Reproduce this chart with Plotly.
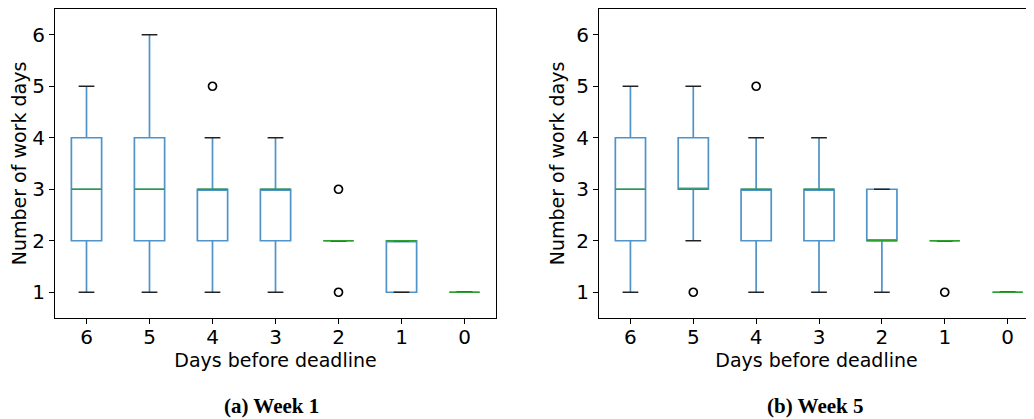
import plotly.graph_objects as go

days = ["6", "5", "4", "3", "2", "1", "0"]

# Week 1 box statistics
w1_q1 = [2, 2, 2, 2, 2, 1, 1]
w1_median = [3, 3, 3, 3, 2, 2, 1]
w1_q3 = [4, 4, 3, 3, 2, 2, 1]
w1_low = [1, 1, 1, 1, 2, 1, 1]
w1_high = [5, 6, 4, 4, 2, 2, 1]
w1_out_day = ["4", "2", "2"]
w1_out_val = [5, 3, 1]

# Week 5 box statistics
w5_q1 = [2, 3, 2, 2, 2, 2, 1]
w5_median = [3, 3, 3, 3, 2, 2, 1]
w5_q3 = [4, 4, 3, 3, 3, 2, 1]
w5_low = [1, 2, 1, 1, 1, 2, 1]
w5_high = [5, 5, 4, 4, 3, 2, 1]
w5_out_day = ["5", "4", "1"]
w5_out_val = [1, 5, 1]

BOX_W = 0.48
CAP_W = 0.25
BLUE = "#4f93c9"
GREEN = "#2ca02c"
FONT = "DejaVu Sans"

# page body has an 8px margin; the figure is sized and placed accordingly
OFF = 8
W, H = 1034 - OFF, 419 - OFF


def px(x):
    return (x - OFF) / W


def py(y):
    return (H - (y - OFF)) / H


fig = go.Figure()


def seg_xy(pos, vals, half):
    xs, ys = [], []
    for p, v in zip(pos, vals):
        xs += [p - half, p + half, None]
        ys += [v, v, None]
    return xs, ys


def add_panel(q1, med, q3, low, high, out_day, out_val, xa, ya):
    pos = list(range(len(days)))
    fig.add_trace(go.Box(
        x=pos, q1=q1, median=med, q3=q3, lowerfence=low, upperfence=high,
        width=BOX_W, whiskerwidth=0.0, line=dict(color=BLUE, width=1.7),
        fillcolor="rgba(0,0,0,0)", boxpoints=False, showlegend=False,
        xaxis=xa, yaxis=ya, hoverinfo="skip"))
    cx, cy = seg_xy(pos + pos, low + high, CAP_W / 2)
    fig.add_trace(go.Scatter(x=cx, y=cy, mode="lines",
                             line=dict(color="#222222", width=1.5),
                             showlegend=False, xaxis=xa, yaxis=ya, hoverinfo="skip"))
    mx, my = seg_xy(pos, med, BOX_W / 2)
    fig.add_trace(go.Scatter(x=mx, y=my, mode="lines",
                             line=dict(color=GREEN, width=1.5),
                             showlegend=False, xaxis=xa, yaxis=ya, hoverinfo="skip"))
    ox = [days.index(d) for d in out_day]
    fig.add_trace(go.Scatter(x=ox, y=out_val, mode="markers",
                             marker=dict(symbol="circle-open", size=8,
                                         color="black", line=dict(width=1.7)),
                             showlegend=False, xaxis=xa, yaxis=ya, hoverinfo="skip"))


add_panel(w1_q1, w1_median, w1_q3, w1_low, w1_high, w1_out_day, w1_out_val, "x", "y")
add_panel(w5_q1, w5_median, w5_q3, w5_low, w5_high, w5_out_day, w5_out_val, "x2", "y2")

xcommon = dict(tickmode="array", tickvals=list(range(len(days))), ticktext=days,
               ticks="outside", ticklen=5, tickcolor="black", showgrid=False,
               zeroline=False, showline=True, linecolor="black", linewidth=1,
               mirror=True, tickfont=dict(family=FONT, size=20, color="black"),
               ticklabelstandoff=-4,
               title=dict(text="Days before deadline",
                          font=dict(family=FONT, size=19, color="black"), standoff=3))
ycommon = dict(range=[0.5, 6.5], tickvals=[1, 2, 3, 4, 5, 6], ticks="outside", ticklen=5,
               tickcolor="black", showgrid=False, zeroline=False, showline=True,
               linecolor="black", linewidth=1,
               tickfont=dict(family=FONT, size=20, color="black"),
               title=dict(text="Number of work days",
                          font=dict(family=FONT, size=19, color="black"), standoff=6))

cap_font = dict(family="Liberation Serif", size=21, color="black")

fig.update_layout(
    width=W, height=H, margin=dict(l=0, r=0, t=0, b=0),
    paper_bgcolor="white", plot_bgcolor="white",
    xaxis=dict(domain=[px(55), px(496)], range=[-0.5, 6.5], anchor="y", **xcommon),
    yaxis=dict(domain=[py(318), py(9)], anchor="x", mirror=True, **ycommon),
    xaxis2=dict(domain=[px(599), 1.0], range=[-0.5, 6.42], anchor="y2", **xcommon),
    yaxis2=dict(domain=[py(318), py(9)], anchor="x2", mirror=False, **ycommon),
    annotations=[
        dict(text="<b>(a) Week 1</b>", x=px(271), y=py(406), xref="paper", yref="paper",
             xanchor="center", yanchor="middle", showarrow=False, font=cap_font),
        dict(text="<b>(b) Week 5</b>", x=px(815), y=py(406), xref="paper", yref="paper",
             xanchor="center", yanchor="middle", showarrow=False, font=cap_font),
    ],
)

fig.write_html("out.html")
